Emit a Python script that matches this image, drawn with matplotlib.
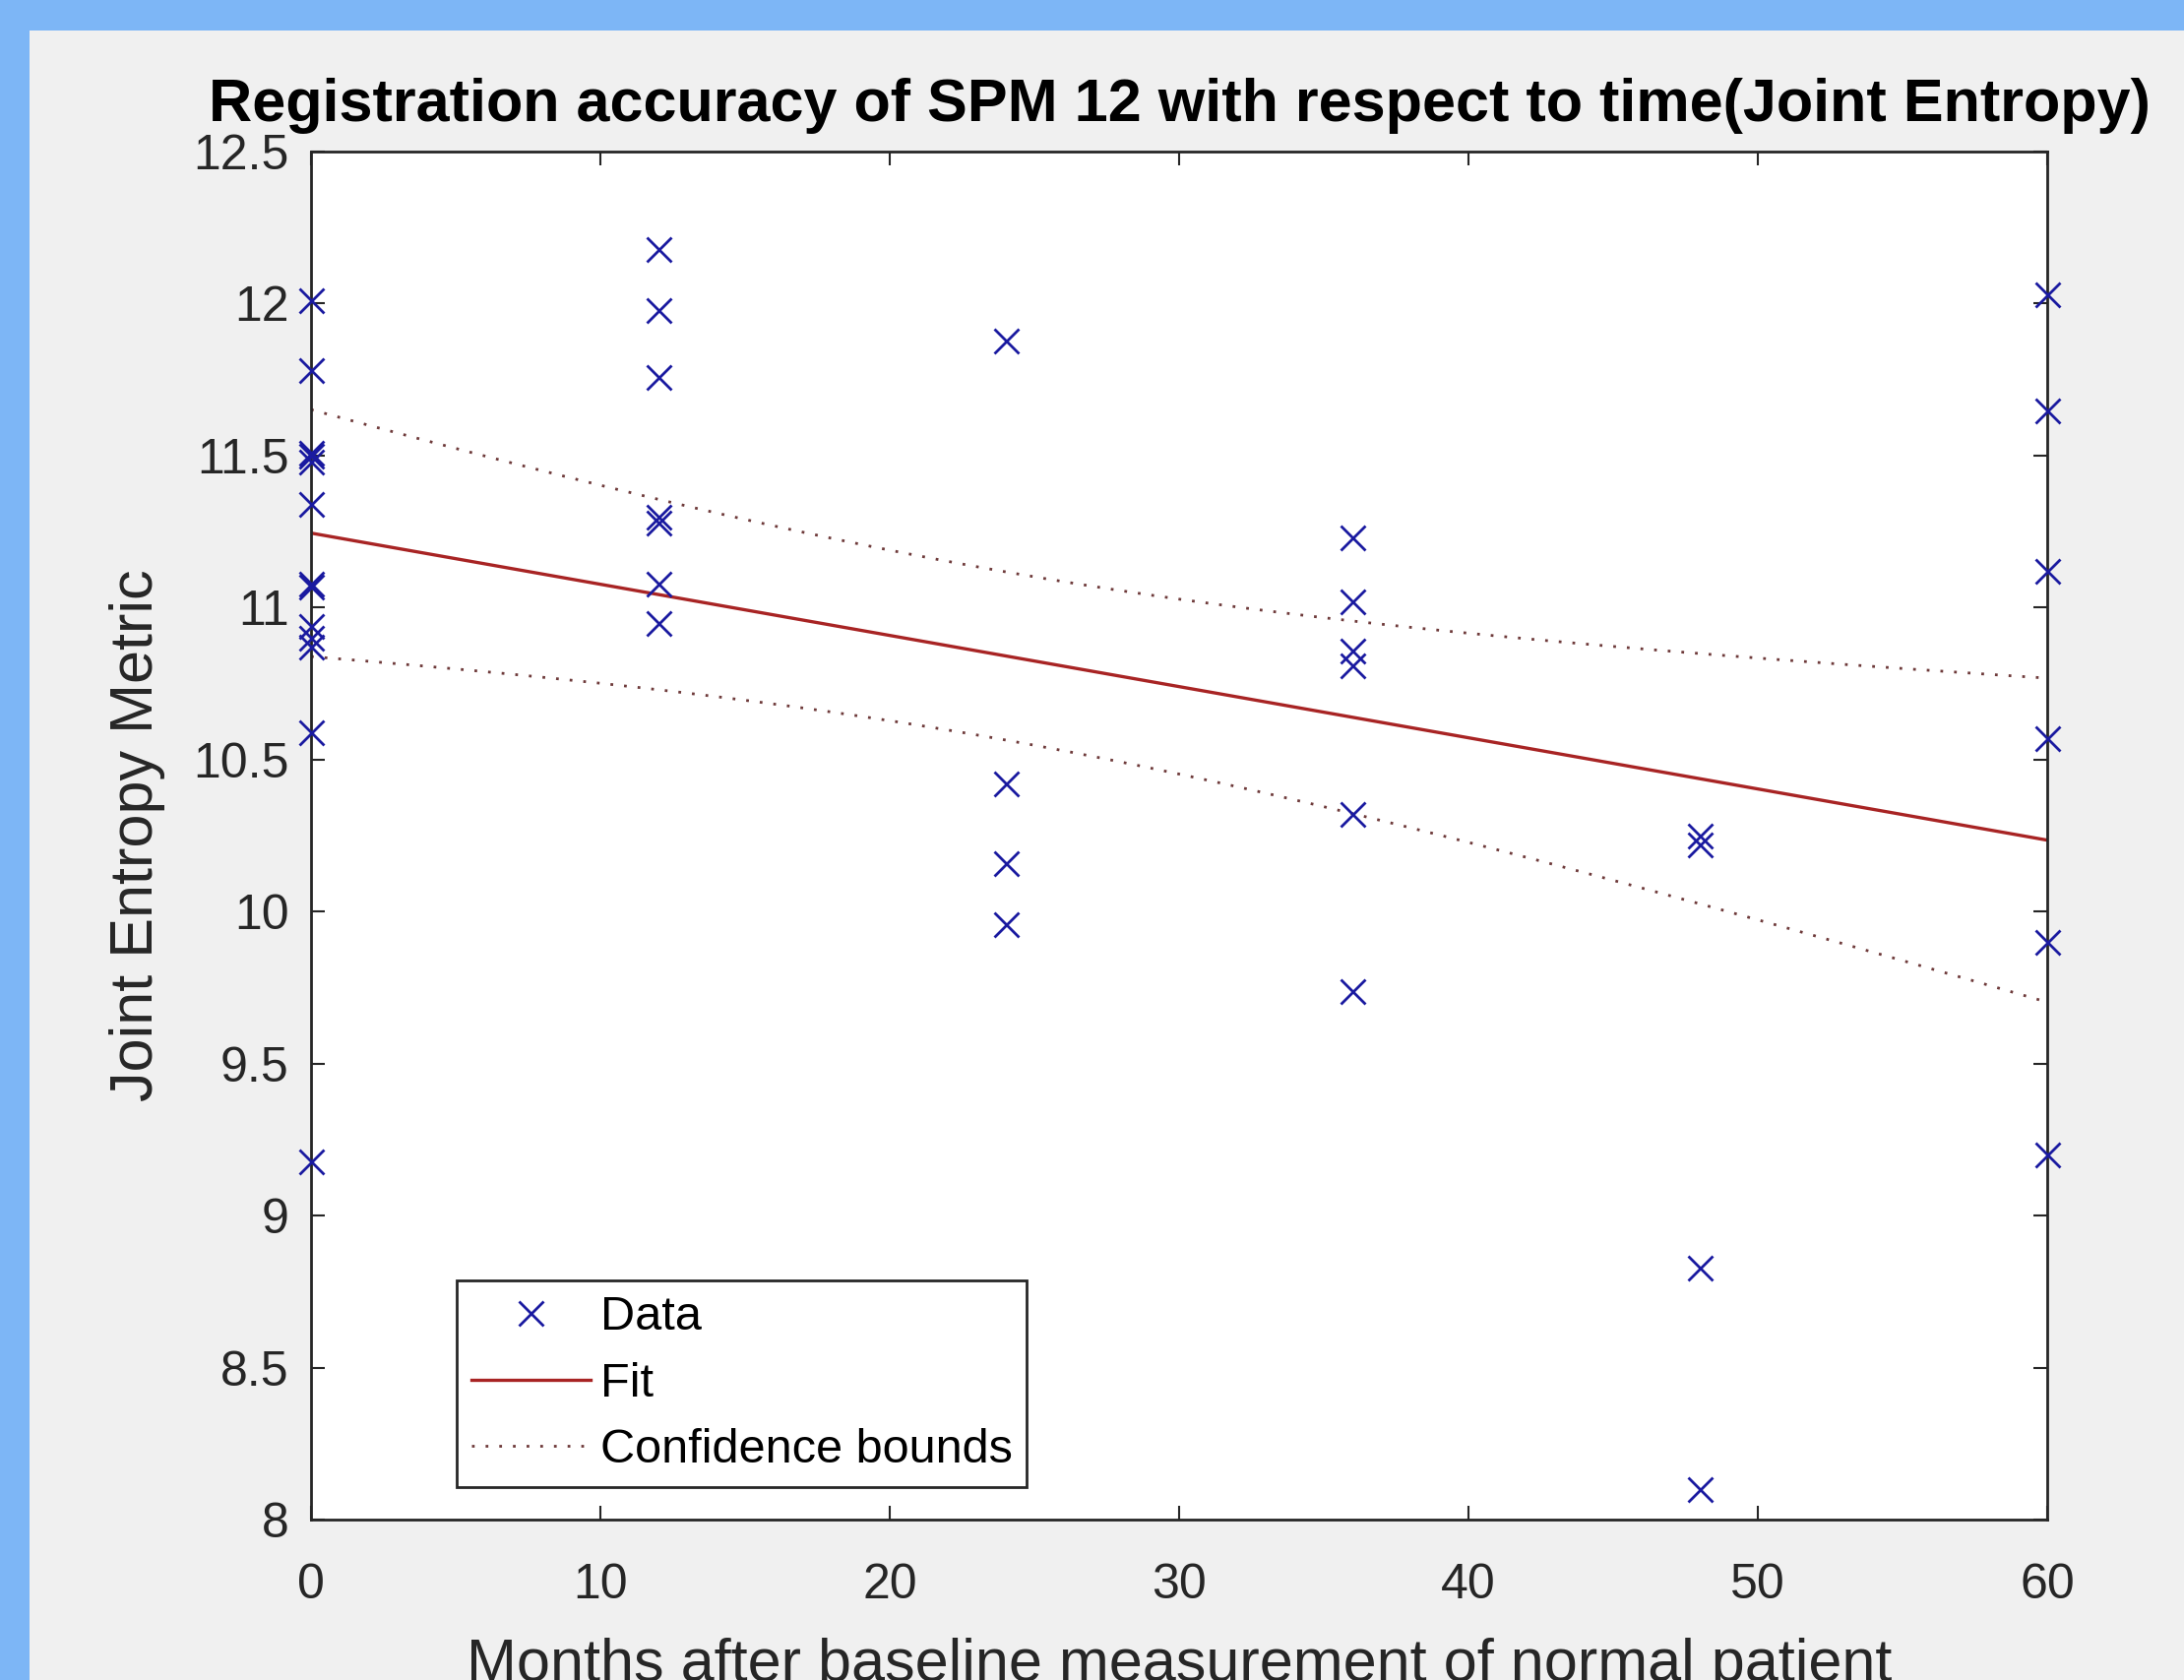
import numpy as np
import matplotlib
matplotlib.use("Agg")
import matplotlib.pyplot as plt
from matplotlib.patches import Rectangle

# ---- data ----
months_0 = [0] * 13
vals_0 = [12.01, 11.78, 11.51, 11.50, 11.48, 11.34, 11.08, 11.07, 10.94, 10.90, 10.87, 10.59, 9.18]
months_12 = [12] * 7
vals_12 = [12.18, 11.98, 11.76, 11.30, 11.28, 11.08, 10.95]
months_24 = [24] * 4
vals_24 = [11.88, 10.42, 10.16, 9.96]
months_36 = [36] * 6
vals_36 = [11.23, 11.02, 10.86, 10.81, 10.32, 9.74]
months_48 = [48] * 4
vals_48 = [10.25, 10.22, 8.83, 8.10]
months_60 = [60] * 6
vals_60 = [12.03, 11.65, 11.12, 10.57, 9.90, 9.20]

# fitted line (value at month 0 and month 60)
fit_months = [0, 60]
fit_values = [11.245, 10.235]

x_ticks = [0, 10, 20, 30, 40, 50, 60]
y_ticks = [8, 8.5, 9, 9.5, 10, 10.5, 11, 11.5, 12, 12.5]
y_tick_labels = ["8", "8.5", "9", "9.5", "10", "10.5", "11", "11.5", "12", "12.5"]
t_crit = 2.0244  # t(0.975, df=38)

x = np.array(months_0 + months_12 + months_24 + months_36 + months_48 + months_60, float)
y = np.array(vals_0 + vals_12 + vals_24 + vals_36 + vals_48 + vals_60, float)

# confidence half-width for the fitted line, from the data
n = len(x)
slope_d, intercept_d = np.polyfit(x, y, 1)
resid = y - (intercept_d + slope_d * x)
s = np.sqrt(np.sum(resid ** 2) / (n - 2))
xm = x.mean()
sxx = np.sum((x - xm) ** 2)
xx = np.linspace(0, 60, 200)
yy = np.interp(xx, fit_months, fit_values)
hw = t_crit * s * np.sqrt(1.0 / n + (xx - xm) ** 2 / sxx)

plt.rcParams['font.family'] = ['Liberation Sans', 'DejaVu Sans']

W, H = 2219, 1707
fig = plt.figure(figsize=(W / 100, H / 100), dpi=100)
fig.patch.set_facecolor('#7DB6F6')
bg = Rectangle((30 / W, 0), 1, 1 - 31 / H, transform=fig.transFigure,
               facecolor='#F0F0F0', edgecolor='none', zorder=-10)
fig.add_artist(bg)

ax = fig.add_axes([316 / W, 1 - 1544 / H, (2080 - 316) / W, (1544 - 154) / H])
ax.set_zorder(1)
ax.set_facecolor('white')

ax.plot(x, y, linestyle='none', marker='x', color='#1A1AA0', markersize=18,
        markeredgewidth=2.0, label='Data', clip_on=False, zorder=3)
ax.plot(xx, yy, color='#A82424', linewidth=2.4, label='Fit', zorder=2)
ax.plot(xx, yy + hw, color='#6E3A3A', linewidth=2.0, linestyle=(0, (1, 4)),
        label='Confidence bounds', zorder=2)
ax.plot(xx, yy - hw, color='#6E3A3A', linewidth=2.0, linestyle=(0, (1, 4)), zorder=2)

ax.set_xlim(0, 60)
ax.set_ylim(8, 12.5)
ax.set_xticks(x_ticks)
ax.set_yticks(y_ticks)
ax.set_yticklabels(y_tick_labels)
ax.tick_params(direction='in', length=10, width=1.5, top=True, right=True,
               labelsize=36, colors='#262626', labelcolor='#262626')
ax.tick_params(axis='y', pad=16)
ax.tick_params(axis='x', pad=32)
for sp in ax.spines.values():
    sp.set_linewidth(2.0)
    sp.set_color('#262626')

ax.set_title('Registration accuracy of SPM 12 with respect to time(Joint Entropy)',
             fontsize=44, fontweight='bold', color='black', pad=22)
ax.set_ylabel('Joint Entropy Metric', fontsize=44, color='#262626', labelpad=20)
ax.set_xlabel('Months after baseline measurement of normal patient',
              fontsize=44, color='#262626', labelpad=21)

leg = ax.legend(loc='lower left', bbox_to_anchor=(0.0839, 0.0237), fontsize=35,
                frameon=True, fancybox=False, edgecolor='#262626', framealpha=1,
                handlelength=2.5, handletextpad=0.2, borderpad=0.3, labelspacing=0.47,
                borderaxespad=0)
leg.get_frame().set_linewidth(2.0)

fig.savefig('out.png', dpi=100, facecolor=fig.get_facecolor())
